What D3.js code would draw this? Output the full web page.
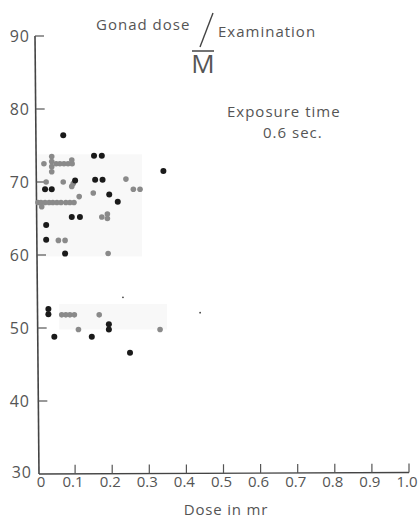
<!DOCTYPE html>
<html>
<head>
<meta charset="utf-8">
<script src="https://cdn.jsdelivr.net/npm/d3@7"></script>
<style>
  body { margin: 0; background: #fff; }
  text { font-family: "Open Sans", "DejaVu Sans", sans-serif; fill: #555; }
</style>
</head>
<body>
<svg id="chart" width="419" height="518"></svg>
<script>
// tick values
let xTicks = [0, 0.1, 0.2, 0.3, 0.4, 0.5, 0.6, 0.7, 0.8, 0.9, 1.0];
let yTicks = [30, 40, 50, 60, 70, 80, 90];

// gray dots [dose, M]
let grayPts = [
    [0.016, 72.5], [0.037, 73.5], [0.037, 72.8], [0.037, 72.1], [0.037, 71.4],
    [0.049, 72.5], [0.059, 72.5], [0.070, 72.5], [0.081, 72.5], [0.092, 72.5], [0.091, 73.0],
    [0.022, 70.0], [0.068, 70.0], [0.095, 69.8], [0.091, 69.4], [0.111, 68.0],
    [0.000, 67.2], [0.008, 67.2], [0.019, 67.2], [0.030, 67.2], [0.040, 67.2],
    [0.051, 67.2], [0.062, 67.2], [0.075, 67.2], [0.086, 67.2], [0.097, 67.2],
    [0.010, 66.6], [0.055, 62.0], [0.073, 62.0],
    [0.237, 70.4], [0.257, 69.0], [0.275, 69.0], [0.149, 68.5],
    [0.172, 65.2], [0.187, 65.6], [0.187, 65.0], [0.189, 60.2],
    [0.064, 51.8], [0.075, 51.8], [0.086, 51.8], [0.098, 51.8], [0.165, 51.8],
    [0.109, 49.8], [0.329, 49.8]
];

// black dots [dose, M]
let blackPts = [
    [0.068, 76.4], [0.151, 73.6], [0.172, 73.6], [0.338, 71.5],
    [0.100, 70.2], [0.154, 70.3], [0.174, 70.3],
    [0.019, 69.0], [0.037, 69.0], [0.192, 68.3], [0.215, 67.3],
    [0.091, 65.2], [0.113, 65.2], [0.022, 64.1], [0.022, 62.1], [0.073, 60.2],
    [0.028, 52.6], [0.028, 51.9], [0.191, 50.5], [0.191, 49.8],
    [0.044, 48.8], [0.145, 48.8], [0.248, 46.6]
];

// tiny specks
let speckPts = [[0.229, 54.2], [0.437, 52.1]];

// faint shaded patches behind the dots [x0, x1, y0, y1]
let patches = [[-0.005, 0.280, 73.8, 59.8], [0.057, 0.348, 53.3, 49.8]];

const svg = d3.select("#chart");

const x = d3.scaleLinear([0, 1], [38, 409]);
const y = d3.scaleLinear([30, 90], [474, 36]);

svg.selectAll(".patch")
    .data(patches)
    .enter()
    .append("rect")
    .attr("class", "patch")
    .attr("x", d => x(d[0]))
    .attr("y", d => y(d[2]))
    .attr("width", d => x(d[1]) - x(d[0]))
    .attr("height", d => y(d[3]) - y(d[2]))
    .attr("fill", "#f8f8f8");

// axes lines
svg.append("line")
    .attr("x1", x(0) - 3).attr("y1", y(90))
    .attr("x2", x(0) + 1).attr("y2", y(30))
    .attr("stroke", "#444").attr("stroke-width", 1.6);
svg.append("line")
    .attr("x1", x(0) + 1).attr("y1", y(30))
    .attr("x2", x(1)).attr("y2", y(30) - 1.5)
    .attr("stroke", "#444").attr("stroke-width", 1.4);

// y ticks (pointing in)
svg.selectAll(".ytick")
    .data(yTicks.filter(d => d > 30))
    .enter()
    .append("line")
    .attr("class", "ytick")
    .attr("x1", d => x(0) - 3 + (90 - d) / 15).attr("x2", d => x(0) + 6 + (90 - d) / 15)
    .attr("y1", d => y(d)).attr("y2", d => y(d))
    .attr("stroke", "#555").attr("stroke-width", 1.2);

svg.selectAll(".ylab")
    .data(yTicks)
    .enter()
    .append("text")
    .attr("class", "ylab")
    .attr("x", d => d == 30 ? 32 : 30)
    .attr("y", d => d == 30 ? y(d) + 4 : y(d) + 6)
    .attr("text-anchor", "end")
    .style("font-size", "16px")
    .style("letter-spacing", "1px")
    .text(d => d);

// x ticks (pointing up)
svg.selectAll(".xtick")
    .data(xTicks.filter(d => d > 0))
    .enter()
    .append("line")
    .attr("class", "xtick")
    .attr("x1", d => x(d)).attr("x2", d => x(d))
    .attr("y1", d => y(30) - d * 1.5).attr("y2", d => y(30) - d * 1.5 - 9)
    .attr("stroke", "#555").attr("stroke-width", 1.2);

svg.selectAll(".xlab")
    .data(xTicks)
    .enter()
    .append("text")
    .attr("class", "xlab")
    .attr("x", d => d == 0 ? x(d) + 3 : x(d) - 2)
    .attr("y", 487)
    .attr("text-anchor", "middle")
    .style("font-size", "15px")
    .text(d => d == 0 ? "0" : d.toFixed(1));

svg.append("text")
    .attr("x", 226).attr("y", 515)
    .attr("text-anchor", "middle")
    .style("font-size", "15px")
    .style("letter-spacing", "0.8px")
    .text("Dose  in  mr");

// title
svg.append("text")
    .attr("x", 96).attr("y", 30)
    .style("font-size", "15px")
    .style("letter-spacing", "1px")
    .text("Gonad dose");
svg.append("line")
    .attr("x1", 213).attr("y1", 13)
    .attr("x2", 200).attr("y2", 47)
    .attr("stroke", "#444").attr("stroke-width", 1.4);
svg.append("text")
    .attr("x", 218).attr("y", 37)
    .style("font-size", "15px")
    .style("letter-spacing", "1px")
    .text("Examination");
svg.append("line")
    .attr("x1", 192).attr("y1", 51)
    .attr("x2", 214).attr("y2", 51)
    .attr("stroke", "#444").attr("stroke-width", 1.5);
svg.append("text")
    .attr("x", 203).attr("y", 73)
    .attr("text-anchor", "middle")
    .style("font-size", "26px")
    .text("M");

svg.append("text")
    .attr("x", 227).attr("y", 117)
    .style("font-size", "15px")
    .style("letter-spacing", "1px")
    .text("Exposure time");
svg.append("text")
    .attr("x", 263).attr("y", 138)
    .style("font-size", "15px")
    .style("letter-spacing", "1px")
    .text("0.6 sec.");

// dots
svg.selectAll(".gdot")
    .data(grayPts)
    .enter()
    .append("circle")
    .attr("class", "gdot")
    .attr("cx", d => x(d[0]))
    .attr("cy", d => y(d[1]))
    .attr("r", 2.8)
    .attr("fill", "#8a8a8a");

svg.selectAll(".bdot")
    .data(blackPts)
    .enter()
    .append("circle")
    .attr("class", "bdot")
    .attr("cx", d => x(d[0]))
    .attr("cy", d => y(d[1]))
    .attr("r", 3)
    .attr("fill", "#1a1a1a");

svg.selectAll(".speck")
    .data(speckPts)
    .enter()
    .append("circle")
    .attr("class", "speck")
    .attr("cx", d => x(d[0]))
    .attr("cy", d => y(d[1]))
    .attr("r", 0.9)
    .attr("fill", "#444");
</script>
</body>
</html>
